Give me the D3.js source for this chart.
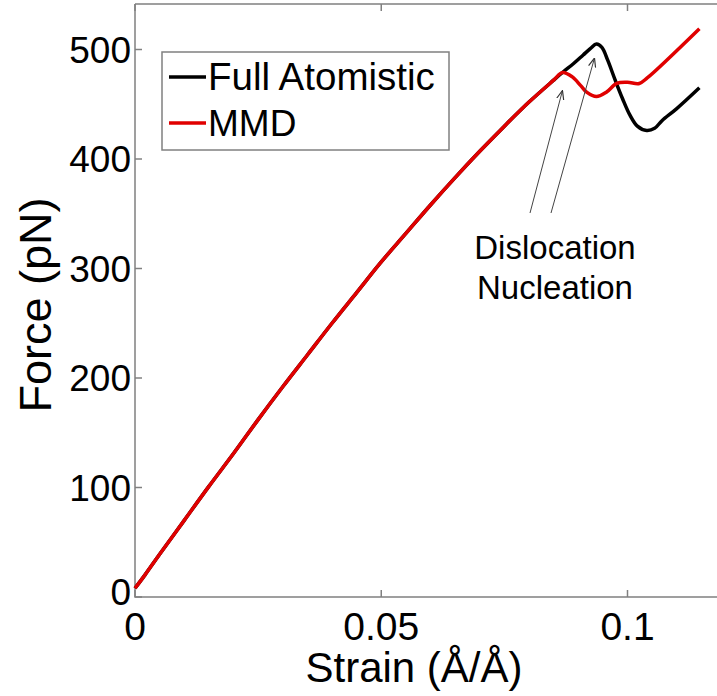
<!DOCTYPE html>
<html><head><meta charset="utf-8">
<script src="https://cdn.jsdelivr.net/npm/d3@7"></script>
<style>body{margin:0;background:#fff}svg{display:block}</style>
</head><body>
<script>
// ---- data ----
const strainShared = [0, 0.002, 0.005, 0.01, 0.015, 0.02, 0.025, 0.03, 0.035, 0.04, 0.045, 0.05, 0.055, 0.06, 0.065, 0.07, 0.075, 0.08, 0.085, 0.0868];
const forceShared  = [8, 20, 39, 70, 101, 131, 162, 192, 221, 250, 278, 306, 332, 358, 383, 407, 430, 452, 472, 479];

const strainFull = [0.089, 0.091, 0.0925, 0.0937, 0.0948, 0.096, 0.0975, 0.099, 0.1005, 0.102, 0.1039, 0.1055, 0.107, 0.11, 0.1146];
const forceFull  = [487, 495, 501, 505, 502, 490, 472, 455, 440, 430, 426, 428, 435, 446, 465];

const strainMMD = [0.0888, 0.0905, 0.0917, 0.0937, 0.0957, 0.0978, 0.1, 0.1024, 0.104, 0.1146];
const forceMMD  = [475, 467, 461, 457, 461, 469, 470, 469, 474, 519];

const seriesNames = ["Full Atomistic", "MMD"];
const xTicks = [0, 0.05, 0.1];
const xTickLabels = ["0", "0.05", "0.1"];
const yTicks = [0, 100, 200, 300, 400, 500];
const yTickLabels = ["0", "100", "200", "300", "400", "500"];
const annotationLines = ["Dislocation", "Nucleation"];
// arrow targets in data coords: [strain, force]
const arrowTargets = [[0.0868, 479], [0.0933, 505]];

// ---- layout ----
const W = 717, H = 696;
const FONT = "'Liberation Sans', Arial, Helvetica, sans-serif";
const x = d3.scaleLinear().domain([0, 0.1]).range([135, 627.5]);
const y = d3.scaleLinear().domain([0, 500]).range([597, 49.5]);
const plotTop = 4, plotRight = 740;

const svg = d3.select("body").append("svg").attr("width", W).attr("height", H)
  .style("font-family", FONT);

const full = strainShared.map((s, i) => [s, forceShared[i]])
  .concat(strainFull.map((s, i) => [s, forceFull[i]]));
const mmd = strainShared.map((s, i) => [s, forceShared[i]])
  .concat(strainMMD.map((s, i) => [s, forceMMD[i]]));

const line = d3.line().x(d => x(d[0])).y(d => y(d[1])).curve(d3.curveCatmullRom.alpha(0.5));

// frame
const axisColor = "#808080";
svg.append("path")
  .attr("d", `M${x(0)},${plotTop}H${plotRight}M${x(0)},${plotTop}V${y(0)}H${plotRight}`)
  .attr("fill", "none").attr("stroke", axisColor).attr("stroke-width", 1.5);

// ticks (inward)
const tl = 7;
xTicks.forEach(t => {
  svg.append("line").attr("x1", x(t)).attr("x2", x(t)).attr("y1", y(0)).attr("y2", y(0) - tl)
    .attr("stroke", axisColor).attr("stroke-width", 1.5);
  svg.append("line").attr("x1", x(t)).attr("x2", x(t)).attr("y1", plotTop).attr("y2", plotTop + tl)
    .attr("stroke", axisColor).attr("stroke-width", 1.5);
});
yTicks.forEach(t => {
  svg.append("line").attr("x1", x(0)).attr("x2", x(0) + tl).attr("y1", y(t)).attr("y2", y(t))
    .attr("stroke", axisColor).attr("stroke-width", 1.5);
});

// tick labels
xTicks.forEach((t, i) => {
  svg.append("text").attr("x", x(t)).attr("y", 640).attr("text-anchor", "middle")
    .attr("font-size", 39).attr("fill", "#000").text(xTickLabels[i]);
});
yTicks.forEach((t, i) => {
  svg.append("text").attr("x", 131).attr("y", y(t) + (t === 0 ? 8 : 13)).attr("text-anchor", "end")
    .attr("font-size", 37).attr("fill", "#000").text(yTickLabels[i]);
});

// axis titles
svg.append("text").attr("x", 414).attr("y", 682).attr("text-anchor", "middle")
  .attr("font-size", 42).attr("fill", "#000").text("Strain (Å/Å)");
svg.append("text").attr("transform", "translate(51,305) rotate(-90)").attr("text-anchor", "middle")
  .attr("font-size", 45).attr("fill", "#000").text("Force (pN)");

// lines
svg.append("path").datum(full).attr("d", line).attr("fill", "none")
  .attr("stroke", "#000").attr("stroke-width", 3.5).attr("stroke-linejoin", "round");
svg.append("path").datum(mmd).attr("d", line).attr("fill", "none")
  .attr("stroke", "#e00000").attr("stroke-width", 3.5).attr("stroke-linejoin", "round");

// legend
const lg = svg.append("g");
lg.append("rect").attr("x", 162).attr("y", 52).attr("width", 287).attr("height", 98)
  .attr("fill", "#fff").attr("stroke", axisColor).attr("stroke-width", 1.5);
const legColors = ["#000", "#e00000"];
const legFont = [38.5, 37];
seriesNames.forEach((n, i) => {
  const cy = 77 + i * 46;
  lg.append("line").attr("x1", 169).attr("x2", 206).attr("y1", cy).attr("y2", cy)
    .attr("stroke", legColors[i]).attr("stroke-width", 3.5);
  lg.append("text").attr("x", 208).attr("y", cy + 13).attr("font-size", legFont[i]).attr("fill", "#000").text(n);
});

// annotation
svg.append("defs").append("marker").attr("id", "ah").attr("viewBox", "0 0 10 10")
  .attr("refX", 10).attr("refY", 5).attr("markerWidth", 9).attr("markerHeight", 9)
  .attr("markerUnits", "userSpaceOnUse").attr("orient", "auto")
  .append("path").attr("d", "M0,1L10,5L0,9").attr("fill", "none").attr("stroke", "#333").attr("stroke-width", 1.3);
const starts = [[530, 213], [551, 213]];
arrowTargets.forEach((t, i) => {
  svg.append("line").attr("x1", starts[i][0]).attr("y1", starts[i][1])
    .attr("x2", x(t[0])).attr("y2", y(t[1]) + (i === 0 ? 18 : 14))
    .attr("stroke", "#444").attr("stroke-width", 1).attr("marker-end", "url(#ah)");
});
annotationLines.forEach((t, i) => {
  svg.append("text").attr("x", 555).attr("y", 259 + i * 40).attr("text-anchor", "middle")
    .attr("font-size", 33).attr("fill", "#000").text(t);
});
</script>
</body></html>
